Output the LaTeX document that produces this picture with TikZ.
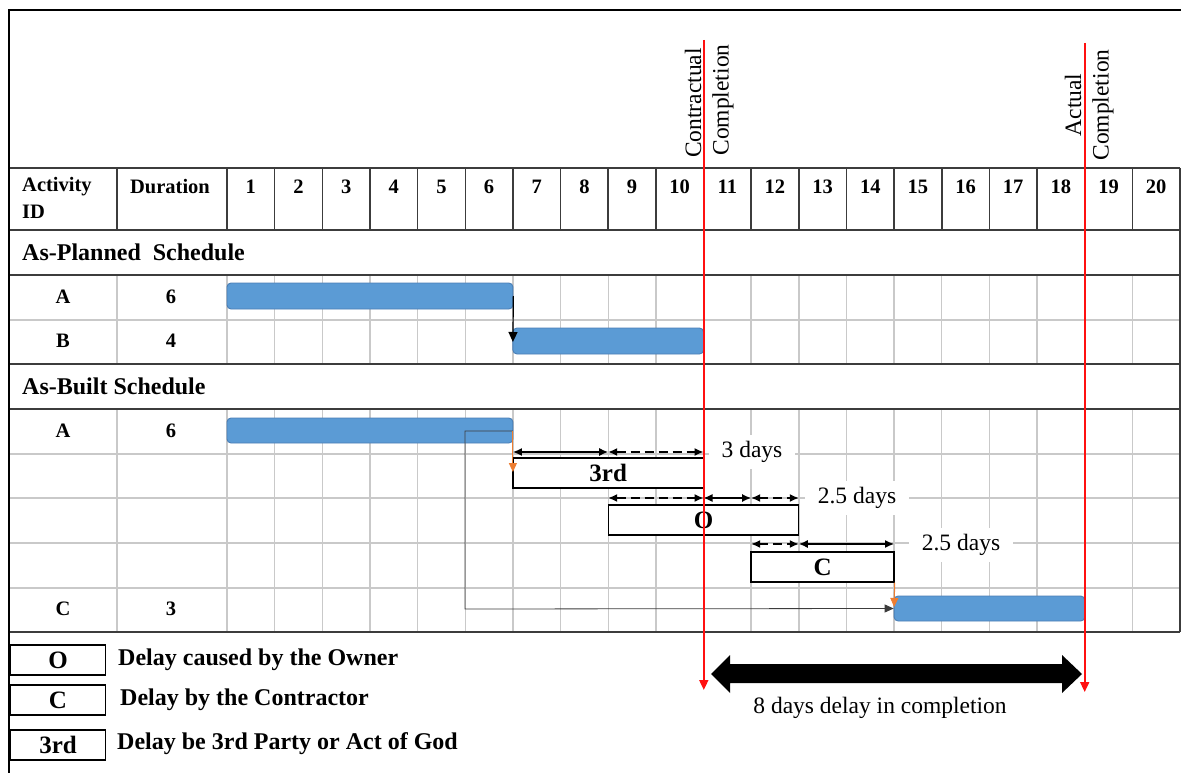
\documentclass[tikz,border=0pt]{standalone}
\usepackage{fontspec}
\setmainfont{Liberation Serif}
\usetikzlibrary{arrows.meta}
\definecolor{barblue}{HTML}{5B9BD5}
\definecolor{barline}{HTML}{4A7EB5}
\definecolor{gridgrey}{HTML}{C9C9C9}
\definecolor{darkline}{HTML}{3C3C3C}
\definecolor{orangearr}{HTML}{ED7D31}
\definecolor{compred}{HTML}{FF1010}
\begin{document}
\begin{tikzpicture}[x=1pt,y=-1pt,
  hdr/.style={font=\bfseries\fontsize{20.5}{24}\selectfont, inner sep=0pt},
  sec/.style={font=\bfseries\fontsize{24}{24}\selectfont, inner sep=0pt, anchor=west},
  bar/.style={draw=barline, fill=barblue, rounded corners=4pt, line width=0.9pt, inner sep=0pt},
  dbox/.style={draw=black, fill=white, line width=1.3pt, inner sep=0pt, font=\bfseries\fontsize{25}{25}\selectfont},
  lgbox/.style={dbox, minimum width=95pt, minimum height=30pt},
  lgtext/.style={font=\bfseries\fontsize{24}{24}\selectfont, inner sep=0pt, anchor=west},
  dim/.style={{Latex[length=9pt,width=8pt]}-{Latex[length=9pt,width=8pt]}, line width=1.4pt},
  dimd/.style={dim, dash pattern=on 9pt off 5pt},
  lbl/.style={fill=white, font=\fontsize{23.5}{24}\selectfont, inner xsep=13pt, inner ysep=6pt},
  rot/.style={rotate=90, font=\fontsize{23.5}{24}\selectfont, inner sep=0pt},
  redl/.style={draw=compred, line width=1.8pt, -{Triangle[length=10pt,width=9pt]}},
  gridl/.style={draw=gridgrey, line width=1.4pt},
  darkl/.style={draw=darkline, line width=1.5pt},
  link/.style={draw=darkline, line width=0.8pt, -{Triangle[length=9pt,width=8pt]}},
  orng/.style={draw=orangearr, line width=1pt, -{Triangle[length=9pt,width=8pt]}}
]
\useasboundingbox (0,0) rectangle (1181,773);

% ---- light grid
\foreach \k in {0,...,19}{
  \draw[gridl] ({227+\k*47.65},275) -- ({227+\k*47.65},364);
  \draw[gridl] ({227+\k*47.65},409) -- ({227+\k*47.65},632);
}
\draw[gridl] (117,275) -- (117,364);
\draw[gridl] (117,409) -- (117,632);
\foreach \yy in {320,454,498,543,588}{
  \draw[gridl] (9,\yy) -- (1180,\yy);
}

% ---- dark table lines
\foreach \yy in {168,230,275,364,409,632}{
  \draw[darkl] (9,\yy) -- (1180,\yy);
}
\foreach \k in {0,...,19}{
  \draw[darkl] ({227+\k*47.65},168) -- ({227+\k*47.65},230);
}
\draw[darkl] (117,168) -- (117,230);
\draw[darkl] (1180,168) -- (1180,632);
% outer frame
\draw[black, line width=2pt] (1181,10) -- (9,10) -- (9,773);

% ---- header texts
\node[hdr, anchor=west] (hact) at (22,187) {Activity};
\node[hdr, anchor=west] (hid) at (22,212) {ID};
\node[hdr] (hdur) at (170,187) {Duration};
\foreach \i in {1,...,20}{
  \node[hdr] (n\i) at ({227+(\i-0.5)*47.65},187) {\i};
}
\node[sec] (splan) at (22,252) {As-Planned\ \ Schedule};
\node[sec] (sbuilt) at (22,386) {As-Built Schedule};

\node[hdr] (ra1) at (63,297) {A};  \node[hdr] (rd1) at (171,297) {6};
\node[hdr] (rb1) at (63,341) {B};  \node[hdr] (rd2) at (171,341) {4};
\node[hdr] (ra2) at (63,431) {A};  \node[hdr] (rd3) at (171,431) {6};
\node[hdr] (rc2) at (63,609) {C};  \node[hdr] (rd4) at (171,609) {3};

% ---- bars
\node[bar, minimum width=285.9pt, minimum height=26pt] (pA) at (369.95,296) {};
\node[bar, minimum width=190.6pt, minimum height=26pt] (pB) at (608.2,341) {};
\node[bar, minimum width=285.9pt, minimum height=25pt] (bA) at (369.95,430.5) {};
\node[bar, minimum width=190.6pt, minimum height=25pt] (bC) at (989.4,608.5) {};

% ---- delay boxes
\node[dbox, minimum width=190.6pt, minimum height=30pt] (t3) at (608.2,473) {3rd};
\node[dbox, minimum width=190.6pt, minimum height=30pt] (tO) at (703.5,520) {O};
\node[dbox, minimum width=142.95pt, minimum height=30pt] (tC) at (822.6,567) {C};

% ---- logic links
\draw[-{Triangle[length=10pt,width=9pt]}, line width=1.2pt] (pA.east) -- (512.9,342);
\coordinate (bend1) at (465,431);
\coordinate (bend2) at (465,609);
\draw[link] (512.9,431) -- (bend1) -- (bend2) -- (bC.west);
\coordinate (o3) at (512.9,472);
\draw[orng] (512.9,431) -- (o3);
\coordinate (oc) at (894.1,607);
\draw[orng] (tC.south east) -- (oc);

% ---- dimension arrows
\coordinate (a1) at (512.9,452); \coordinate (a2) at (608.2,452); \coordinate (a3) at (703.5,452);
\draw[dim] (a1) -- (a2);
\draw[dimd] (a2) -- (a3);
\coordinate (b1) at (608.2,498); \coordinate (b2) at (703.5,498); \coordinate (b3) at (751.15,498); \coordinate (b4) at (798.8,498);
\draw[dimd] (b1) -- (b2);
\draw[dim] (b2) -- (b3);
\draw[dimd] (b3) -- (b4);
\coordinate (c1) at (751.15,544); \coordinate (c2) at (798.8,544); \coordinate (c3) at (894.1,544);
\draw[dimd] (c1) -- (c2);
\draw[dim] (c2) -- (c3);
\node[lbl] (l3) at (752,452) {3 days};
\node[lbl] (l25a) at (857,498) {2.5 days};
\node[lbl] (l25b) at (961,545) {2.5 days};

% ---- completion lines
\coordinate (cct) at (703.8,40); \coordinate (ccb) at (703.8,690);
\coordinate (act) at (1084.7,43); \coordinate (acb) at (1084.7,692);
\draw[redl] (cct) -- (ccb);
\draw[redl] (act) -- (acb);
\node[rot] (ccl1) at (693,103) {Contractual};
\node[rot] (ccl2) at (723,100) {Completion};
\node[rot] (acl1) at (1073,105) {Actual};
\node[rot] (acl2) at (1103,105) {Completion};

% ---- big delay arrow
\fill[black] (711,674) -- (730,655) -- (730,664) -- (1062,664) -- (1062,655) -- (1082,674)
  -- (1062,693) -- (1062,683) -- (730,683) -- (730,693) -- cycle;
\node[font=\fontsize{23.5}{24}\selectfont, inner sep=0pt] (delay) at (880,708) {8 days delay in completion};

% ---- legend
\node[lgbox] (kO) at (58,660) {O};
\node[lgbox] (kC) at (58,700) {C};
\node[lgbox] (k3) at (58,745) {3rd};
\node[lgtext] (kOt) at (118,660) {Delay caused by the Owner};
\node[lgtext] (kCt) at (120,700) {Delay by the Contractor};
\node[lgtext] (k3t) at (117,744) {Delay be 3rd Party or Act of God};
\end{tikzpicture}
\end{document}
